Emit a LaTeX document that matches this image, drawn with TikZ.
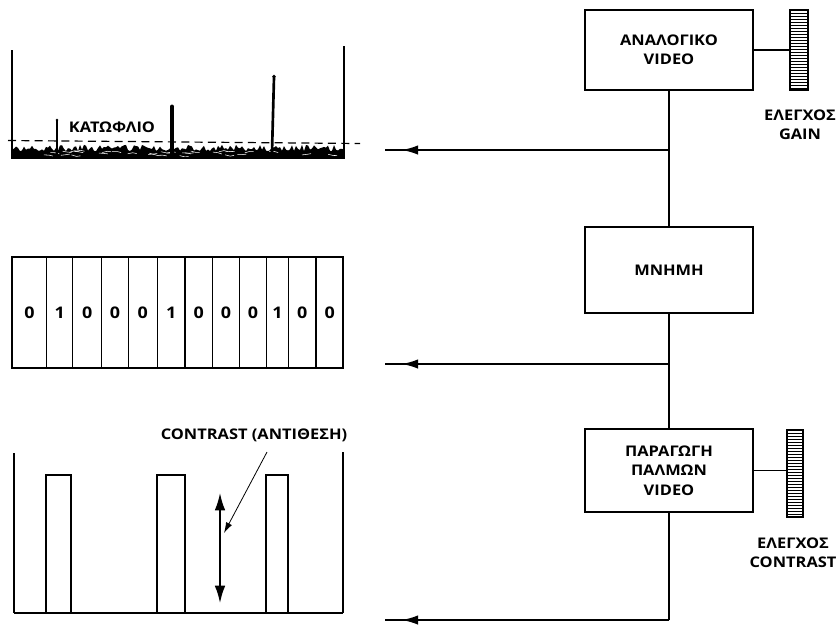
\documentclass[tikz,border=0pt]{standalone}
\usepackage{fontspec}
\setmainfont{Open Sans}[FakeStretch=1.12]
\usetikzlibrary{arrows.meta}
\begin{document}
\begin{tikzpicture}[x=0.75pt,y=-0.75pt,line width=1.1pt,
  lbl/.style={font=\bfseries\fontsize{11}{14.5}\selectfont,align=center,inner sep=0pt},
  blk/.style={draw,line width=1.3pt,minimum width=126pt,lbl},
  knob/.style={draw,line width=1.2pt,inner sep=0pt,
    path picture={\foreach \k in {1,...,40}{\draw[line width=0.7pt]
      ([yshift=-\k*2.25pt]path picture bounding box.north west) --
      ([yshift=-\k*2.25pt]path picture bounding box.north east);}}},
  outarrow/.style={-{Latex[length=12pt,width=7pt]}},
  spike/.style={line width=2pt},
  digit/.style={lbl,font=\bfseries\fontsize{12}{14}\selectfont}]
\useasboundingbox (0,0) rectangle (838,626);

% ---------- right column: blocks ----------
\node[blk,minimum height=60pt] (b1) at (669,50) {ΑΝΑΛΟΓΙΚΟ\\VIDEO};
\node[blk,minimum height=64.5pt] (b2) at (669,270) {ΜΝΗΜΗ};
\node[blk,minimum height=62pt] (b3) at (669,470.5) {ΠΑΡΑΓΩΓΗ\\ΠΑΛΜΩΝ\\VIDEO};

\node[knob,minimum width=13.5pt,minimum height=60pt] (k1) at (799,50) {};
\node[knob,minimum width=12pt,minimum height=65pt] (k2) at (795,473.5) {};
\node[lbl] (g1) at (800,125) {ΕΛΕΓΧΟΣ\\GAIN};
\node[lbl] (g2) at (793,553) {ΕΛΕΓΧΟΣ\\CONTRAST};

\draw (b1.east) -- (k1.west);
\draw (b3.east) -- (b3.east -| k2.west);

\coordinate (j1) at (669,150);
\coordinate (j2) at (669,364);
\coordinate (j3) at (669,620);
\coordinate (t1) at (402,150); \coordinate (e1) at (385,150);
\coordinate (t2) at (402,364); \coordinate (e2) at (385,364);
\coordinate (t3) at (402,620); \coordinate (e3) at (385,620);

\draw (b1.south) -- (b2.north);
\draw (b2.south) -- (b3.north);
\draw (b3.south) -- (j3);
\draw (j1) -- (e1); \draw[outarrow] (j1) -- (t1);
\draw (j2) -- (e2); \draw[outarrow] (j2) -- (t2);
\draw (j3) -- (e3); \draw[outarrow] (j3) -- (t3);

% ---------- top panel: analog video ----------
\pgfmathsetseed{7}
\fill (12,158) -- (12,149)
  \foreach \i in {1,...,166} { -- ({12+\i*2},{148+3.2*rand}) }
  -- (344,158) -- cycle;
\foreach \i in {1,...,30}{
  \pgfmathsetmacro{\xx}{15+rnd*322}
  \pgfmathsetmacro{\yy}{151+rnd*5}
  \draw[white,line width=0.4pt] (\xx,\yy) -- ++(5,{rand*1.5}) -- ++(4,{rand*1.5});
}
\draw (12,50) -- (12,158) -- (344,158) -- (344,46);
\draw[dash pattern=on 6pt off 4pt,line width=0.9pt] (8,140.5) -- (360,143.5);
\draw[spike] (57,155) -- (57,120); \fill (57,120) circle (1.4);
\draw[line width=2.6pt] (172,155) -- (172,107); \fill (172,106.5) circle (2);
\draw[spike] (272,152) -- (274,77); \fill (274,76.5) circle (1.8);
\node[lbl] (thr) at (112,127) {ΚΑΤΩΦΛΙΟ};

% ---------- middle panel: memory cells ----------
\draw[line width=1.3pt] (12,257) rectangle (343,368);
\foreach \x in {46.7,72.7,101.7,128.3,157.3,185,212.7,239.3,266.7,288.3,316}{
  \draw (\x,257) -- (\x,368);
}
\foreach \a/\b/\d in {12.3/46.7/0,46.7/72.7/1,72.7/101.7/0,101.7/128.3/0,128.3/157.3/0,157.3/185/1,185/212.7/0,212.7/239.3/0,239.3/266.7/0,266.7/288.3/1,288.3/316/0,316/343.3/0}{
  \node[digit] at ({(\a+\b)/2},313) {\d};
}

% ---------- bottom panel: video pulses ----------
\draw (14,453) -- (14,613);
\draw (343,452) -- (343,613);
\draw[line width=1.8pt] (14,613) -- (343,613);
\draw[line width=1.2pt] (46,613) -- (46,475) -- (71,475) -- (71,613);
\draw[line width=1.2pt] (157,613) -- (157,475) -- (185,475) -- (185,613);
\draw[line width=1.2pt] (266,613) -- (266,475) -- (288,475) -- (288,613);
\coordinate (da) at (220,493);
\coordinate (db) at (220,603);
\draw[{Latex[length=13pt,width=8pt]}-{Latex[length=13pt,width=8pt]},line width=1.3pt] (da) -- (db);
\node[lbl] (ct) at (254,435) {CONTRAST (ΑΝΤΙΘΕΣΗ)};
\coordinate (p1) at (267,452);
\coordinate (p2) at (224,533);
\draw[line width=0.6pt,-{Latex[length=8pt,width=5pt]}] (p1) -- (p2);
\end{tikzpicture}
\end{document}
